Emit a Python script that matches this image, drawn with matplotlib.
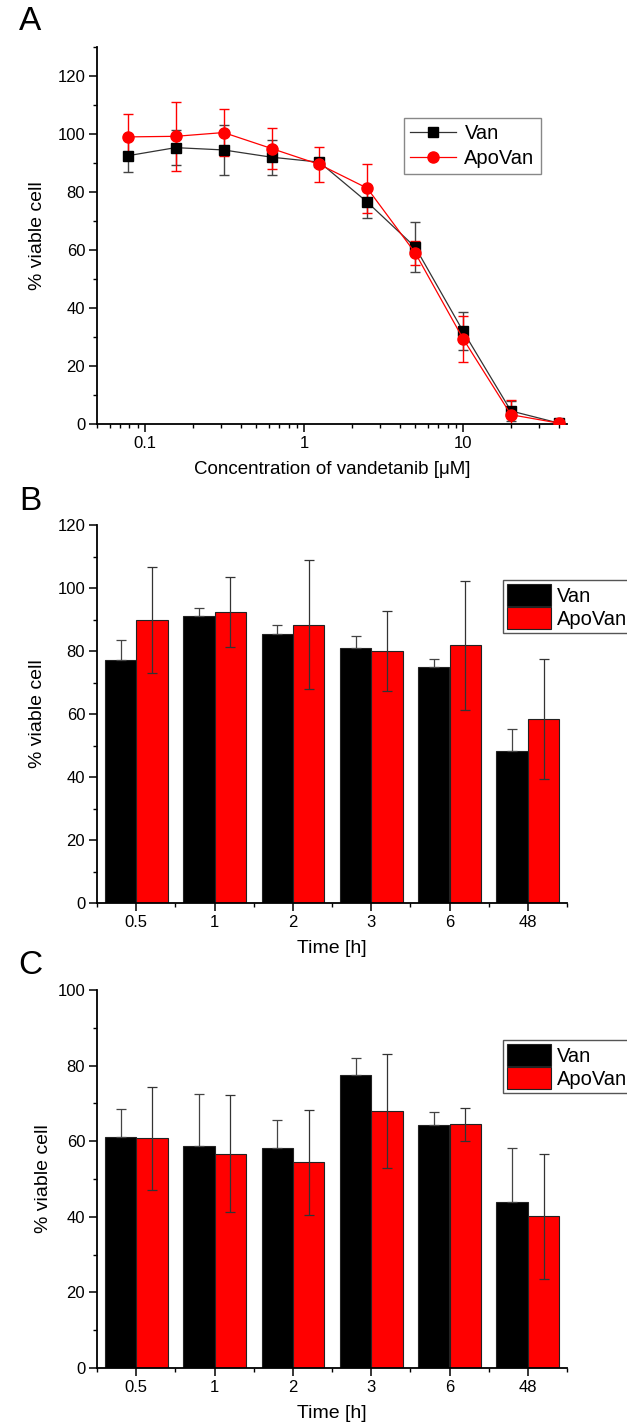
import numpy as np
import matplotlib
matplotlib.use('Agg')
import matplotlib.pyplot as plt
from matplotlib.ticker import LogLocator, FixedLocator, FuncFormatter, MultipleLocator, NullFormatter

plt.rcParams['font.family'] = ['Liberation Sans', 'DejaVu Sans']

# A: viability vs vandetanib concentration
conc = [0.078, 0.156, 0.3125, 0.625, 1.25, 2.5, 5, 10, 20, 40]
van_dose = [92.5, 95.3, 94.5, 92.0, 90.3, 76.5, 61.0, 32.0, 4.5, 0.3]
van_dose_err = [5.7, 6.0, 8.5, 6.0, 1.5, 5.5, 8.7, 6.5, 3.5, 0.5]
apo_dose = [99.0, 99.2, 100.5, 95.0, 89.5, 81.3, 59.0, 29.4, 3.2, 0.3]
apo_dose_err = [8.0, 12.0, 8.0, 7.0, 6.0, 8.5, 4.0, 8.0, 5.0, 0.5]

# B and C: viability vs exposure time
times = ['0.5', '1', '2', '3', '6', '48']
van_b = [77.3, 91.0, 85.5, 81.0, 74.9, 48.4]
van_b_err = [6.3, 2.6, 2.7, 3.9, 2.5, 6.8]
apo_b = [89.8, 92.3, 88.4, 80.0, 81.8, 58.5]
apo_b_err = [16.8, 11.1, 20.5, 12.6, 20.4, 19.1]

van_c = [61.0, 58.6, 58.3, 77.4, 64.4, 43.8]
van_c_err = [7.5, 13.8, 7.4, 4.7, 3.4, 14.3]
apo_c = [60.8, 56.7, 54.4, 68.0, 64.5, 40.1]
apo_c_err = [13.6, 15.4, 13.8, 15.2, 4.4, 16.6]

W, H = 627, 1428
fig = plt.figure(figsize=(W / 100, H / 100), dpi=100)


def style_axes(ax):
    for s in ['top', 'right']:
        ax.spines[s].set_visible(False)
    for s in ['left', 'bottom']:
        ax.spines[s].set_linewidth(1.3)
    ax.tick_params(which='major', direction='out', length=5.5, width=1.1, labelsize=12, pad=3)
    ax.tick_params(which='minor', direction='out', length=3, width=1.0)


def add_axes(top_px, bottom_px):
    return fig.add_axes([97 / W, 1 - bottom_px / H, 470 / W, (bottom_px - top_px) / H])


# ---- panel A ----
axA = add_axes(47, 424)
axA.errorbar(conc, van_dose, yerr=van_dose_err, fmt='none', ecolor='#444444',
             elinewidth=1.0, capsize=3.5, zorder=2)
axA.errorbar(conc, apo_dose, yerr=apo_dose_err, fmt='none', ecolor='red',
             elinewidth=1.0, capsize=3.5, zorder=2)
axA.plot(conc, van_dose, color='#333333', lw=0.9, marker='s', ms=7,
         mfc='black', mec='black', label='Van', zorder=3)
axA.plot(conc, apo_dose, color='red', lw=0.9, marker='o', ms=8,
         mfc='red', mec='red', label='ApoVan', zorder=4)
axA.set_xscale('log')
axA.set_xlim(0.05, 45)
axA.set_ylim(0, 130)
axA.yaxis.set_major_locator(FixedLocator([0, 20, 40, 60, 80, 100, 120]))
axA.yaxis.set_minor_locator(MultipleLocator(10))
axA.xaxis.set_major_locator(FixedLocator([0.1, 1, 10]))
axA.xaxis.set_major_formatter(FuncFormatter(lambda v, p: f'{v:g}'))
axA.xaxis.set_minor_locator(LogLocator(base=10, subs=np.arange(2, 10)))
axA.xaxis.set_minor_formatter(NullFormatter())
style_axes(axA)
axA.set_xlabel('Concentration of vandetanib [\u03bcM]', fontsize=13.5, labelpad=7)
axA.set_ylabel('% viable cell', fontsize=14, labelpad=8)
legA = axA.legend(loc='upper left', bbox_to_anchor=(404 / W, 1 - 118 / H), bbox_transform=fig.transFigure,
                  fontsize=14.5, frameon=True, fancybox=False, edgecolor='#888888', framealpha=1,
                  handlelength=2.3, borderpad=0.3, labelspacing=0.3, handletextpad=0.4,
                  borderaxespad=0)
legA.get_frame().set_linewidth(1.0)


# ---- panels B and C ----
def bar_panel(top_px, bottom_px, van, van_err, apo, apo_err, ymax, leg_top, ylab_pad):
    ax = add_axes(top_px, bottom_px)
    x = np.arange(len(times))
    ax.bar(x - 0.2, van, 0.4, color='black', edgecolor='#222222', lw=0.8, label='Van', zorder=2)
    ax.bar(x + 0.2, apo, 0.4, color='#ff0000', edgecolor='#222222', lw=0.8, label='ApoVan', zorder=2)
    # upper half only on the black bars, the lower half disappears into them
    ax.errorbar(x - 0.2, van, yerr=[np.zeros(len(van)), van_err], fmt='none', ecolor='#444444',
                elinewidth=0.9, capsize=3.5, capthick=0.9, zorder=3)
    ax.errorbar(x + 0.2, apo, yerr=apo_err, fmt='none', ecolor='#333333', elinewidth=0.9,
                capsize=3.5, capthick=0.9, zorder=3)
    ax.set_xlim(-0.5, len(times) - 0.5)
    ax.set_ylim(0, ymax)
    ax.set_xticks(x)
    ax.set_xticklabels(times)
    ax.xaxis.set_minor_locator(FixedLocator(np.arange(-0.5, len(times), 1)))
    ax.yaxis.set_major_locator(MultipleLocator(20))
    ax.yaxis.set_minor_locator(MultipleLocator(10))
    style_axes(ax)
    ax.set_xlabel('Time [h]', fontsize=14, labelpad=7)
    ax.set_ylabel('% viable cell', fontsize=14, labelpad=ylab_pad)
    leg = ax.legend(loc='upper left', bbox_to_anchor=(503 / W, 1 - leg_top / H), bbox_transform=fig.transFigure,
                    fontsize=14.5, frameon=True, fancybox=False, edgecolor='#555555', framealpha=1,
                    handlelength=2.2, handleheight=1.3, borderpad=0.2, labelspacing=0.05, handletextpad=0.3,
                    borderaxespad=0)
    leg.get_frame().set_linewidth(1.0)
    return ax


bar_panel(525, 903, van_b, van_b_err, apo_b, apo_b_err, 120, 580, 8)
bar_panel(990, 1368, van_c, van_c_err, apo_c, apo_c_err, 100, 1040, 4)

# panel letters
for letter, ypx in [('A', 22), ('B', 502), ('C', 966)]:
    fig.text(30 / W, 1 - ypx / H, letter, fontsize=24, ha='center', va='center')

fig.savefig('out.png', dpi=100)
